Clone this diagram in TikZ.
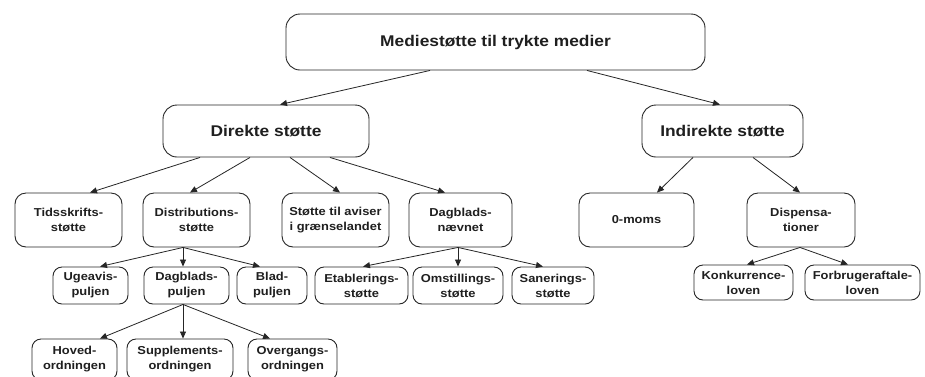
\documentclass[tikz,border=0pt]{standalone}
\usepackage{fontspec}
\setmainfont[FakeStretch=1.12]{Liberation Sans}
\usetikzlibrary{arrows.meta}
\begin{document}
\begin{tikzpicture}[x=1pt,y=-1pt,
  box/.style={draw=black!85,line width=0.9pt,inner sep=0pt,align=center,text=black!88,font=\bfseries},
  bigbox/.style={box,rounded corners=14pt,font=\fontsize{15.5}{18}\selectfont\bfseries},
  midbox/.style={box,rounded corners=11pt,minimum height=54pt,font=\fontsize{11.5}{15.5}\selectfont\bfseries},
  smallbox/.style={box,rounded corners=9pt,font=\fontsize{11.5}{15}\selectfont\bfseries},
  arr/.style={draw=black!85,line width=0.8pt,-{Triangle[length=7pt,width=6pt]}}]
\clip (0,0) rectangle (925,376);
\fill[white] (0,0) rectangle (925,376);
% level 0/1
\node[bigbox,minimum width=419pt,minimum height=56pt] (top) at (495.5,42) {Mediestøtte til trykte medier};
\node[bigbox,minimum width=206pt,minimum height=52pt] (dir) at (266,131) {Direkte støtte};
\node[bigbox,minimum width=161pt,minimum height=52pt] (ind) at (722.5,131) {Indirekte støtte};
% level 2
\node[midbox,minimum width=107pt] (tids) at (68.5,220) {Tidsskrifts-\\støtte};
\node[midbox,minimum width=107pt] (dist) at (196.5,220) {Distributions-\\støtte};
\node[midbox,minimum width=107pt] (graens) at (335.5,220) {Støtte til aviser\\i grænselandet};
\node[midbox,minimum width=103pt] (dagn) at (460.5,220) {Dagblads-\\nævnet};
\node[midbox,minimum width=115pt] (moms) at (636.5,220) {0-moms};
\node[midbox,minimum width=108pt] (disp) at (801,220) {Dispensa-\\tioner};
% level 3
\node[smallbox,minimum width=75pt,minimum height=37pt] (uge) at (90.5,285.5) {Ugeavis-\\puljen};
\node[smallbox,minimum width=85pt,minimum height=37pt] (dagp) at (186.5,285.5) {Dagblads-\\puljen};
\node[smallbox,minimum width=70pt,minimum height=37pt] (blad) at (272,285.5) {Blad-\\puljen};
\node[smallbox,minimum width=93pt,minimum height=37pt] (etab) at (361.5,285.5) {Etablerings-\\støtte};
\node[smallbox,minimum width=90pt,minimum height=37pt] (omst) at (458,285.5) {Omstillings-\\støtte};
\node[smallbox,minimum width=82pt,minimum height=37pt] (san) at (553,285.5) {Sanerings-\\støtte};
\node[smallbox,minimum width=99pt,minimum height=35pt] (konk) at (743.5,282.5) {Konkurrence-\\loven};
\node[smallbox,minimum width=115pt,minimum height=35pt] (forb) at (862.5,282.5) {Forbrugeraftale-\\loven};
% level 4
\node[smallbox,minimum width=85pt,minimum height=41pt] (hoved) at (74.5,359.5) {Hoved-\\ordningen};
\node[smallbox,minimum width=106pt,minimum height=41pt] (supp) at (180,359.5) {Supplements-\\ordningen};
\node[smallbox,minimum width=89pt,minimum height=41pt] (overg) at (292.5,359.5) {Overgangs-\\ordningen};
% arrows
\draw[arr] ([xshift=-65.5pt]top.south) -- ([xshift=14pt]dir.north);
\draw[arr] ([xshift=91.5pt]top.south) -- ([xshift=-2.5pt]ind.north);
\draw[arr] ([xshift=-66pt]dir.south) -- ([xshift=21.5pt]tids.north);
\draw[arr] ([xshift=-16pt]dir.south) -- ([xshift=-6.5pt]dist.north);
\draw[arr] ([xshift=24pt]dir.south) -- ([xshift=4.5pt]graens.north);
\draw[arr] ([xshift=64pt]dir.south) -- ([xshift=-15.5pt]dagn.north);
\draw[arr] ([xshift=-29.5pt]ind.south) -- ([xshift=20.5pt]moms.north);
\draw[arr] ([xshift=30.5pt]ind.south) -- ([xshift=-1pt]disp.north);
\draw[arr] ([xshift=-13.5pt]dist.south) -- ([xshift=9.5pt]uge.north);
\draw[arr] ([xshift=-13.5pt]dist.south) -- ([xshift=-3.5pt]dagp.north);
\draw[arr] ([xshift=-13.5pt]dist.south) -- ([xshift=-12pt]blad.north);
\draw[arr] ([xshift=-2.5pt]dagn.south) -- ([xshift=1.5pt]etab.north);
\draw[arr] ([xshift=-2.5pt]dagn.south) -- (omst.north);
\draw[arr] ([xshift=-2.5pt]dagn.south) -- ([xshift=-10pt]san.north);
\draw[arr] ([xshift=-1pt]disp.south) -- ([xshift=3.5pt]konk.north);
\draw[arr] ([xshift=-1pt]disp.south) -- ([xshift=-14.5pt]forb.north);
\draw[arr] ([xshift=-3.5pt]dagp.south) -- ([xshift=25.5pt]hoved.north);
\draw[arr] ([xshift=-3.5pt]dagp.south) -- ([xshift=3pt]supp.north);
\draw[arr] ([xshift=-3.5pt]dagp.south) -- ([xshift=-22.5pt]overg.north);
\end{tikzpicture}
\end{document}
